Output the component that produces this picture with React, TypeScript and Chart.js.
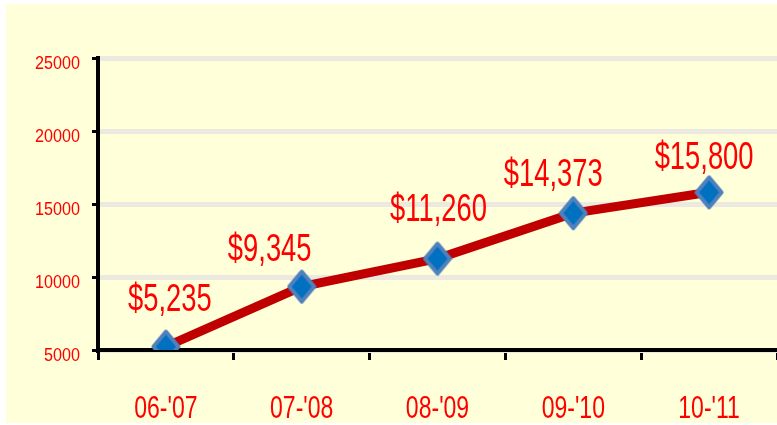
import React, { useEffect, useRef } from "react";
import { Chart, registerables } from "chart.js";
Chart.register(...registerables);

const categories = ["06-'07", "07-'08", "08-'09", "09-'10", "10-'11"];
const values = [5235, 9345, 11260, 14373, 15800];
const valueLabels = ["$5,235", "$9,345", "$11,260", "$14,373", "$15,800"];
const yMin = 5000;
const yMax = 25000;
const yStep = 5000;

const FONT = '"Liberation Sans", Arial, sans-serif';
const RED = "#FF0000";

function makeDiamond(): HTMLCanvasElement {
  const c = document.createElement("canvas");
  c.width = 30;
  c.height = 36;
  const g = c.getContext("2d")!;
  g.beginPath();
  g.moveTo(15, 3);
  g.lineTo(27.5, 18);
  g.lineTo(15, 33);
  g.lineTo(2.5, 18);
  g.closePath();
  g.fillStyle = "#0070C0";
  g.fill();
  g.lineWidth = 4;
  g.lineJoin = "round";
  g.strokeStyle = "#4F81BD";
  g.stroke();
  return c;
}

function drawNarrow(
  ctx: CanvasRenderingContext2D,
  text: string,
  x: number,
  y: number,
  size: number,
  sx: number,
  align: CanvasTextAlign
) {
  ctx.save();
  ctx.translate(x, y);
  ctx.scale(sx, 1);
  ctx.font = `${size}px ${FONT}`;
  ctx.fillStyle = RED;
  ctx.textAlign = align;
  ctx.textBaseline = "alphabetic";
  ctx.fillText(text, 0, 0);
  ctx.restore();
}

// label nudges (annotation placement, in px)
const nudgeX = [4, -32, 1, -20, -5];
const nudgeY = [-36, -26, -38, -27, -23];

const textPlugin = {
  id: "narrowText",
  afterDraw(chart: any) {
    const ctx = chart.ctx as CanvasRenderingContext2D;
    const xs = chart.scales.x;
    const ys = chart.scales.y;
    const area = chart.chartArea;
    // y tick labels
    ys.ticks.forEach((t: any) => {
      const y = ys.getPixelForValue(t.value);
      drawNarrow(ctx, String(t.value), area.left - 18, y + 11, 19, 0.85, "right");
    });
    // x tick labels
    xs.ticks.forEach((t: any, i: number) => {
      const x = xs.getPixelForTick(i);
      const label = xs.getLabelForValue(t.value);
      drawNarrow(ctx, label, x, area.bottom + 68, 32, 0.72, "center");
    });
    // value labels
    const meta = chart.getDatasetMeta(0);
    meta.data.forEach((pt: any, i: number) => {
      drawNarrow(ctx, valueLabels[i], pt.x + nudgeX[i], pt.y + nudgeY[i], 38, 0.72, "center");
    });
  },
};

export default function App() {
  const ref = useRef<HTMLCanvasElement>(null);
  useEffect(() => {
    document.body.style.margin = "0";
    const chart = new Chart(ref.current!, {
      type: "line",
      data: {
        labels: categories,
        datasets: [
          {
            data: values,
            borderColor: "#C00000",
            borderWidth: 9,
            tension: 0,
            pointStyle: makeDiamond() as any,
            pointRadius: 14,
            pointHoverRadius: 14,
          },
        ],
      },
      options: {
        animation: false,
        responsive: true,
        maintainAspectRatio: false,
        layout: { autoPadding: false, padding: { top: 54, right: 0, left: 0, bottom: 0 } },
        plugins: { legend: { display: false }, tooltip: { enabled: false } },
        scales: {
          x: {
            offset: true,
            afterFit: (s: any) => {
              s.height = 73;
            },
            grid: {
              offset: true,
              drawOnChartArea: false,
              drawTicks: true,
              tickLength: 10,
              tickWidth: 3,
              tickColor: "#000000",
            },
            border: { color: "#000000", width: 4 },
            ticks: { display: false },
          },
          y: {
            min: yMin,
            max: yMax,
            afterFit: (s: any) => {
              s.width = 92;
            },
            grid: {
              color: "#ECEAE0",
              lineWidth: 5,
              tickLength: 6,
              tickWidth: 3,
              tickColor: "#000000",
            },
            border: { color: "#000000", width: 4 },
            ticks: { stepSize: yStep, display: false },
          },
        },
      },
      plugins: [textPlugin],
    });
    return () => chart.destroy();
  }, []);
  return (
    <div
      style={{
        position: "absolute",
        left: 6,
        top: 4,
        width: 771,
        height: 419,
        background: "#FFFFD9",
      }}
    >
      <canvas ref={ref} />
    </div>
  );
}
